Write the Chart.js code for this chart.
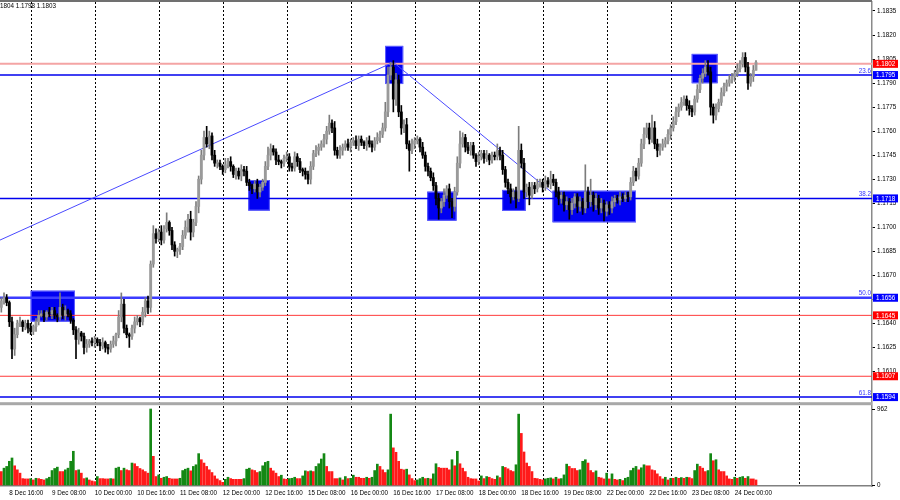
<!DOCTYPE html>
<html>
<head>
<meta charset="utf-8">
<script src="https://cdn.jsdelivr.net/npm/chart.js@4.4.1/dist/chart.umd.min.js"></script>
<style>
    html, body { margin: 0; padding: 0; background: #fff; }
    canvas { display: block; }
</style>
</head>
<body>
<canvas id="chart" width="900" height="500"></canvas>
<script>
/* === DATA (EURUSD H1) === */
const firstOpen = 1.1650;

const closes = [
    1.1654, 1.1656, 1.1653, 1.1641, 1.1624, 1.1633, 1.1640, 1.1641, 1.1638, 1.1640,
    1.1637, 1.1635, 1.1638, 1.1641, 1.1645, 1.1646, 1.1644, 1.1647, 1.1646, 1.1648,
    1.1645, 1.1644, 1.1650, 1.1645, 1.1648, 1.1646, 1.1642, 1.1636, 1.1630, 1.1634,
    1.1632, 1.1625, 1.1627, 1.1629, 1.1628, 1.1630, 1.1628, 1.1626, 1.1628, 1.1625,
    1.1624, 1.1627, 1.1629, 1.1633, 1.1644, 1.1652, 1.1637, 1.1633, 1.1632, 1.1637,
    1.1641, 1.1643, 1.1641, 1.1647, 1.1654, 1.1650, 1.1677, 1.1696, 1.1693, 1.1697,
    1.1692, 1.1699, 1.1703, 1.1698, 1.1689, 1.1685, 1.1686, 1.1688, 1.1695, 1.1700,
    1.1705, 1.1697, 1.1703, 1.1713, 1.1730, 1.1745, 1.1756, 1.1752, 1.1757, 1.1745,
    1.1740, 1.1740, 1.1738, 1.1736, 1.1739, 1.1741, 1.1738, 1.1733, 1.1735, 1.1732,
    1.1736, 1.1735, 1.1728, 1.1726, 1.1724, 1.1727, 1.1722, 1.1725, 1.1728, 1.1738,
    1.1745, 1.1749, 1.1747, 1.1742, 1.1741, 1.1740, 1.1743, 1.1744, 1.1738, 1.1737,
    1.1744, 1.1741, 1.1736, 1.1735, 1.1733, 1.1730, 1.1738, 1.1746, 1.1748, 1.1750,
    1.1752, 1.1755, 1.1760, 1.1765, 1.1762, 1.1748, 1.1745, 1.1748, 1.1750, 1.1752,
    1.1750, 1.1753, 1.1754, 1.1751, 1.1755, 1.1753, 1.1751, 1.1754, 1.1752, 1.1750,
    1.1754, 1.1756, 1.1758, 1.1762, 1.1772, 1.1795, 1.1800, 1.1780, 1.1792, 1.1772,
    1.1762, 1.1764, 1.1752, 1.1748, 1.1752, 1.1754, 1.1755, 1.1750, 1.1745, 1.1738,
    1.1735, 1.1731, 1.1726, 1.1718, 1.1712, 1.1716, 1.1720, 1.1724, 1.1716, 1.1713,
    1.1722, 1.1740, 1.1752, 1.1756, 1.1750, 1.1748, 1.1751, 1.1745, 1.1741, 1.1744,
    1.1746, 1.1743, 1.1745, 1.1742, 1.1745, 1.1744, 1.1748, 1.1745, 1.1736, 1.1728,
    1.1724, 1.1719, 1.1722, 1.1718, 1.1748, 1.1740, 1.1722, 1.1725, 1.1720, 1.1726,
    1.1724, 1.1727, 1.1728, 1.1725, 1.1729, 1.1727, 1.1730, 1.1728, 1.1722, 1.1718,
    1.1720, 1.1714, 1.1716, 1.1711, 1.1715, 1.1719, 1.1713, 1.1716, 1.1712, 1.1722,
    1.1716, 1.1720, 1.1714, 1.1718, 1.1712, 1.1715, 1.1710, 1.1714, 1.1712, 1.1716,
    1.1718, 1.1717, 1.1719, 1.1718, 1.1720, 1.1719, 1.1728, 1.1735, 1.1732, 1.1740,
    1.1752, 1.1758, 1.1762, 1.1755, 1.1762, 1.1752, 1.1748, 1.1750, 1.1752, 1.1754,
    1.1758, 1.1762, 1.1766, 1.1772, 1.1775, 1.1778, 1.1780, 1.1776, 1.1774, 1.1772,
    1.1780, 1.1786, 1.1793, 1.1796, 1.1800, 1.1797, 1.1775, 1.1770, 1.1774, 1.1778,
    1.1784, 1.1788, 1.1790, 1.1792, 1.1794, 1.1796, 1.1799, 1.1802, 1.1806, 1.1800,
    1.1790, 1.1794, 1.1798, 1.1803
];

// wick length above / below the body, in pips
const wickUp = [
    2,3,2,1,3,4,2,3,1,2,2,3,1,2,3,2,2,1,3,2,
    2,1,9,2,3,1,2,1,2,3,1,2,3,1,2,2,1,2,3,1,
    2,2,3,1,4,7,3,2,1,2,3,2,1,3,2,3,2,5,3,2,
    4,2,6,1,2,2,1,2,3,4,3,5,2,3,2,3,4,7,3,2,
    3,2,2,1,4,2,3,1,2,2,3,2,3,2,1,2,3,2,2,3,
    5,3,2,2,3,1,2,3,2,2,3,2,2,1,2,2,3,2,3,2,
    2,3,3,5,2,4,2,3,2,2,3,2,2,3,2,2,1,2,3,2,
    2,3,2,3,6,5,3,4,4,3,4,3,4,2,3,2,2,1,3,2,
    2,2,3,2,3,2,4,2,3,2,3,4,8,3,2,3,2,2,1,3,
    2,2,3,1,2,2,4,2,3,2,2,3,2,3,15,4,3,2,3,2,
    2,3,2,2,3,2,5,3,2,3,2,2,3,2,3,2,2,3,2,17,
    3,10,2,3,2,3,2,2,2,3,2,2,3,2,2,2,3,3,2,3,
    3,4,3,3,8,4,3,2,3,2,3,2,3,3,2,3,2,2,3,2,
    2,3,2,3,4,4,3,2,3,2,3,2,2,3,2,2,3,2,3,3,
    3,2,3,1
];
const wickDown = [
    3,2,2,3,6,4,2,2,3,2,3,2,2,3,2,1,3,2,2,3,
    2,3,2,2,3,2,2,3,12,3,3,4,3,2,2,3,2,3,2,3,
    3,2,2,3,2,3,3,2,7,2,3,2,3,2,3,4,3,2,3,2,
    3,2,2,3,3,3,4,3,2,2,3,5,3,2,4,3,3,2,3,3,
    2,3,2,3,2,2,3,2,3,2,3,3,2,3,3,2,4,3,2,2,
    2,3,2,3,2,3,2,2,3,2,2,3,2,3,3,3,3,2,2,3,
    2,2,3,2,3,3,2,2,3,2,2,3,2,2,3,2,2,3,2,3,
    2,2,3,2,2,3,3,8,4,3,4,3,3,13,2,3,2,3,2,3,
    3,2,3,4,7,3,3,2,4,7,3,2,3,2,3,2,3,2,3,2,
    2,3,2,3,2,2,2,3,3,3,3,4,2,6,2,3,4,3,6,2,
    3,2,2,3,2,2,3,2,3,4,3,4,3,6,3,3,4,3,4,3,
    4,3,4,3,4,3,6,3,4,3,3,2,3,2,2,3,2,2,3,2,
    2,3,2,3,2,3,4,3,2,2,2,3,2,2,3,2,2,3,4,3,
    2,2,2,3,2,2,5,5,3,2,2,2,3,2,2,3,2,2,2,3,
    4,2,3,0
];

const volumes = [
    170,213,235,300,342,243,192,150,81,77,
    77,80,64,85,81,72,64,81,98,183,
    209,226,170,170,192,213,300,427,183,192,
    150,81,90,64,51,43,107,81,81,77,
    77,81,77,213,226,183,213,192,183,278,
    269,235,209,192,170,150,962,363,107,128,
    85,98,107,85,77,77,77,85,183,200,
    213,179,235,256,397,320,278,235,192,158,
    115,77,56,34,72,98,81,72,72,72,
    72,81,200,213,192,183,158,170,243,286,
    300,213,179,150,107,124,77,72,81,85,
    98,81,81,115,179,170,179,170,235,269,
    329,397,235,170,170,81,81,90,64,107,
    81,85,124,98,98,85,85,98,85,98,
    183,264,235,192,158,192,897,470,414,300,
    200,192,200,128,81,56,64,81,98,81,
    85,77,141,269,222,213,213,213,192,320,
    243,427,269,213,170,98,81,77,77,51,
    115,81,107,98,81,72,115,94,235,222,
    205,183,170,256,897,653,418,278,235,170,
    85,81,72,64,77,85,90,77,98,77,
    81,128,264,235,209,209,183,192,300,320,
    278,183,158,179,98,90,77,150,77,141,
    72,64,72,56,85,98,183,213,235,192,
    218,256,243,243,192,183,141,107,77,98,
    64,85,85,98,85,94,85,98,94,81,
    183,264,235,213,170,183,397,307,320,192,
    170,170,115,77,72,98,85,98,107,85,
    107,77,77,64
];

const priceTicks = [1.1835, 1.1820, 1.1805, 1.1790, 1.1775, 1.1760, 1.1745, 1.1730,
                    1.1715, 1.1700, 1.1685, 1.1670, 1.1655, 1.1640, 1.1625, 1.1610];
const tickLabels = ["8 Dec 16:00", "9 Dec 08:00", "10 Dec 00:00", "10 Dec 16:00", "11 Dec 08:00",
                    "12 Dec 00:00", "12 Dec 16:00", "15 Dec 08:00", "16 Dec 00:00", "16 Dec 16:00",
                    "17 Dec 08:00", "18 Dec 00:00", "18 Dec 16:00", "19 Dec 08:00", "22 Dec 00:00",
                    "22 Dec 16:00", "23 Dec 08:00", "24 Dec 00:00"];

const fibLevels = [1.1795, 1.1718, 1.1656, 1.1594];
const fibNames = ["23.6", "38.2", "50.0", "61.8"];
const redLevels = [1.1645, 1.1607];
const bidLevel = 1.1802;
const volMaxLabel = 962;

// [bar index, price]
const trendPoints = [[-0.5, 1.1692], [147, 1.1803], [207, 1.1721]];
// [from bar, to bar, top price, bottom price]
const zones = [
    [11.0, 27.6, 1.16604, 1.16411],
    [92.6, 100.7, 1.17295, 1.17104],
    [143.9, 150.7, 1.18132, 1.17894],
    [159.7, 170.7, 1.17222, 1.17041],
    [187.8, 196.6, 1.17233, 1.17102],
    [206.7, 238.0, 1.17228, 1.17031],
    [258.9, 268.6, 1.18082, 1.17899],
];
const headerText = "1804 1.1798 1.1803";

/* === AXIS SETTINGS === */
const SLOTS = 327;
const PRICE_MAX = 1.18406, PRICE_MIN = 1.15385;
const VOL_MIN = -12.7, VOL_MAX = 6114, VOL_PANEL_TOP = 1010;
const FONT = { family: "'Liberation Sans', Arial, sans-serif", size: 6.3 };

[wickUp, wickDown, volumes].forEach((arr, k) => {
    if (arr.length !== closes.length) throw new Error("length mismatch in array " + k + ": " + arr.length);
});

/* === CANDLES === */
const PIP = 0.0001;
const opens = closes.map((c, i) => (i === 0 ? firstOpen : closes[i - 1]));
const bodies = closes.map((c, i) => [Math.min(opens[i], c), Math.max(opens[i], c)]);
const wicks = closes.map((c, i) => [
    Math.min(opens[i], c) - wickDown[i] * PIP,
    Math.max(opens[i], c) + wickUp[i] * PIP,
]);
const isBull = closes.map((c, i) => c >= opens[i]);
const volColors = volumes.map((v, i) => (i > 0 && v > volumes[i - 1] ? "#148814" : "#ff1a1a"));

/* === TIME SLOTS (hourly, no weekends) === */
const hours = [];
let t = Date.UTC(2025, 11, 8, 13);
while (hours.length < SLOTS) {
    const d = new Date(t);
    const wd = d.getUTCDay();
    if (wd !== 0 && wd !== 6) {
        hours.push(`${d.getUTCDate()} Dec ${String(d.getUTCHours()).padStart(2, "0")}:00`);
    }
    t += 3600000;
}

/* === OVERLAYS === */
const overlay = {
    id: "overlay",
    beforeDatasetsDraw(chart) {
        const { ctx, chartArea: a, scales: { x, y, yv } } = chart;
        ctx.save();

        // top border
        ctx.fillStyle = "#707070";
        ctx.fillRect(0, 0, a.right, 2);

        // daily grid
        ctx.strokeStyle = "#000";
        ctx.lineWidth = 1;
        ctx.setLineDash([2, 2]);
        hours.forEach((h, i) => {
            if (!h.endsWith(" 00:00") || i > closes.length + 24) return;
            const px = Math.round(x.getPixelForValue(i)) + 0.5;
            ctx.beginPath();
            ctx.moveTo(px, a.top);
            ctx.lineTo(px, a.bottom);
            ctx.stroke();
        });
        ctx.setLineDash([]);

        // zones
        zones.forEach(([i0, i1, pTop, pBot]) => {
            const x0 = x.getPixelForValue(i0), x1 = x.getPixelForValue(i1);
            const y0 = y.getPixelForValue(pTop), y1 = y.getPixelForValue(pBot);
            ctx.fillStyle = "#0000f2";
            ctx.fillRect(x0, y0, x1 - x0, y1 - y0);
            ctx.strokeStyle = "#6060ff";
            ctx.strokeRect(x0 + 0.5, y0 + 0.5, x1 - x0 - 1, y1 - y0 - 1);
        });

        // horizontal levels
        const hline = (p, color, width) => {
            const py = y.getPixelForValue(p);
            ctx.strokeStyle = color;
            ctx.lineWidth = width;
            ctx.beginPath();
            ctx.moveTo(a.left, py);
            ctx.lineTo(a.right, py);
            ctx.stroke();
        };
        redLevels.forEach(p => hline(p, "#ff3a3a", 1));
        fibLevels.forEach((p, k) => hline(p, k === 2 ? "#3c3cff" : "#0000ee", k === 2 ? 2.4 : 1.5));
        hline(bidLevel, "#f4a4a4", 2);

        // trend lines
        ctx.strokeStyle = "#4a4aff";
        ctx.lineWidth = 1;
        ctx.beginPath();
        trendPoints.forEach(([i, p], k) => {
            const px = x.getPixelForValue(i), py = y.getPixelForValue(p);
            k === 0 ? ctx.moveTo(px, py) : ctx.lineTo(px, py);
        });
        ctx.stroke();

        // separator between price and volume panels
        const sepY = yv.getPixelForValue(VOL_PANEL_TOP);
        ctx.fillStyle = "#a8a8a8";
        ctx.fillRect(0, sepY - 3, a.right, 3);

        ctx.restore();
    },
    afterDraw(chart) {
        const { ctx, chartArea: a, scales: { y, yv } } = chart;
        ctx.save();
        ctx.font = `${FONT.size}px ${FONT.family}`;

        // fib level names
        ctx.fillStyle = "#3434ff";
        ctx.textAlign = "right";
        ctx.textBaseline = "bottom";
        fibLevels.forEach((p, k) => ctx.fillText(fibNames[k], a.right - 1, y.getPixelForValue(p) - 1));

        // price markers on the right axis
        const marker = (p, bg) => {
            const py = y.getPixelForValue(p);
            ctx.fillStyle = bg;
            ctx.fillRect(a.right + 1, py - 4, 25, 8);
            ctx.fillStyle = "#fff";
            ctx.textAlign = "left";
            ctx.textBaseline = "middle";
            ctx.fillText(p.toFixed(4), a.right + 4, py + 0.5);
        };
        fibLevels.forEach(p => marker(p, "#0000ff"));
        redLevels.forEach(p => marker(p, "#ff0000"));
        marker(bidLevel, "#ff0000");

        // volume scale labels
        ctx.fillStyle = "#000";
        ctx.textAlign = "left";
        ctx.textBaseline = "middle";
        [volMaxLabel, 0].forEach(v => {
            const py = yv.getPixelForValue(v);
            ctx.fillRect(a.right, Math.round(py), 3, 1);
            ctx.fillText(String(v), a.right + 5, py);
        });

        // header
        ctx.textBaseline = "middle";
        ctx.fillText(headerText, 0, 6);
        ctx.restore();
    },
};

/* === CHART === */
new Chart(document.getElementById("chart"), {
    type: "bar",
    data: {
        labels: hours,
        datasets: [
            {
                data: bodies,
                backgroundColor: isBull.map(b => (b ? "#9a9a9a" : "#000")),
                barThickness: 2.2,
                minBarLength: 1,
                grouped: false,
                borderWidth: 0,
                order: 0,
            },
            {
                data: wicks,
                backgroundColor: isBull.map(b => (b ? "#7c7c7c" : "#000")),
                barThickness: 1,
                grouped: false,
                borderWidth: 0,
                order: 1,
            },
            {
                data: volumes,
                yAxisID: "yv",
                backgroundColor: volColors,
                barThickness: 2,
                grouped: false,
                borderWidth: 0,
                order: 2,
            },
        ],
    },
    options: {
        responsive: false,
        animation: false,
        events: [],
        layout: { padding: { top: 2, left: 0, right: 0, bottom: 0 } },
        plugins: { legend: { display: false }, tooltip: { enabled: false } },
        scales: {
            x: {
                offset: true,
                grid: { display: false, drawTicks: false, tickLength: 0 },
                border: { display: true, color: "#808080", width: 1.5 },
                ticks: {
                    autoSkip: false,
                    maxRotation: 0,
                    minRotation: 0,
                    align: "start",
                    padding: 3,
                    color: "#000",
                    font: FONT,
                    callback: function (value) {
                        const label = this.getLabelForValue(value);
                        return tickLabels.includes(label) ? label : "";
                    },
                },
                afterFit(s) { s.height = 14; s.paddingLeft = 0; s.paddingRight = 0; },
            },
            y: {
                position: "right",
                min: PRICE_MIN,
                max: PRICE_MAX,
                grid: { drawOnChartArea: false, drawTicks: true, tickLength: 3, color: "#000" },
                border: { display: true, color: "#8a8a8a", width: 1.5 },
                ticks: { color: "#000", font: FONT, padding: 2, callback: v => v.toFixed(4) },
                afterBuildTicks(s) { s.ticks = priceTicks.map(v => ({ value: v })); },
                afterFit(s) { s.width = 28; s.paddingTop = 0; s.paddingBottom = 0; },
            },
            yv: {
                display: false,
                min: VOL_MIN,
                max: VOL_MAX,
            },
        },
    },
    plugins: [overlay],
});
</script>
</body>
</html>
